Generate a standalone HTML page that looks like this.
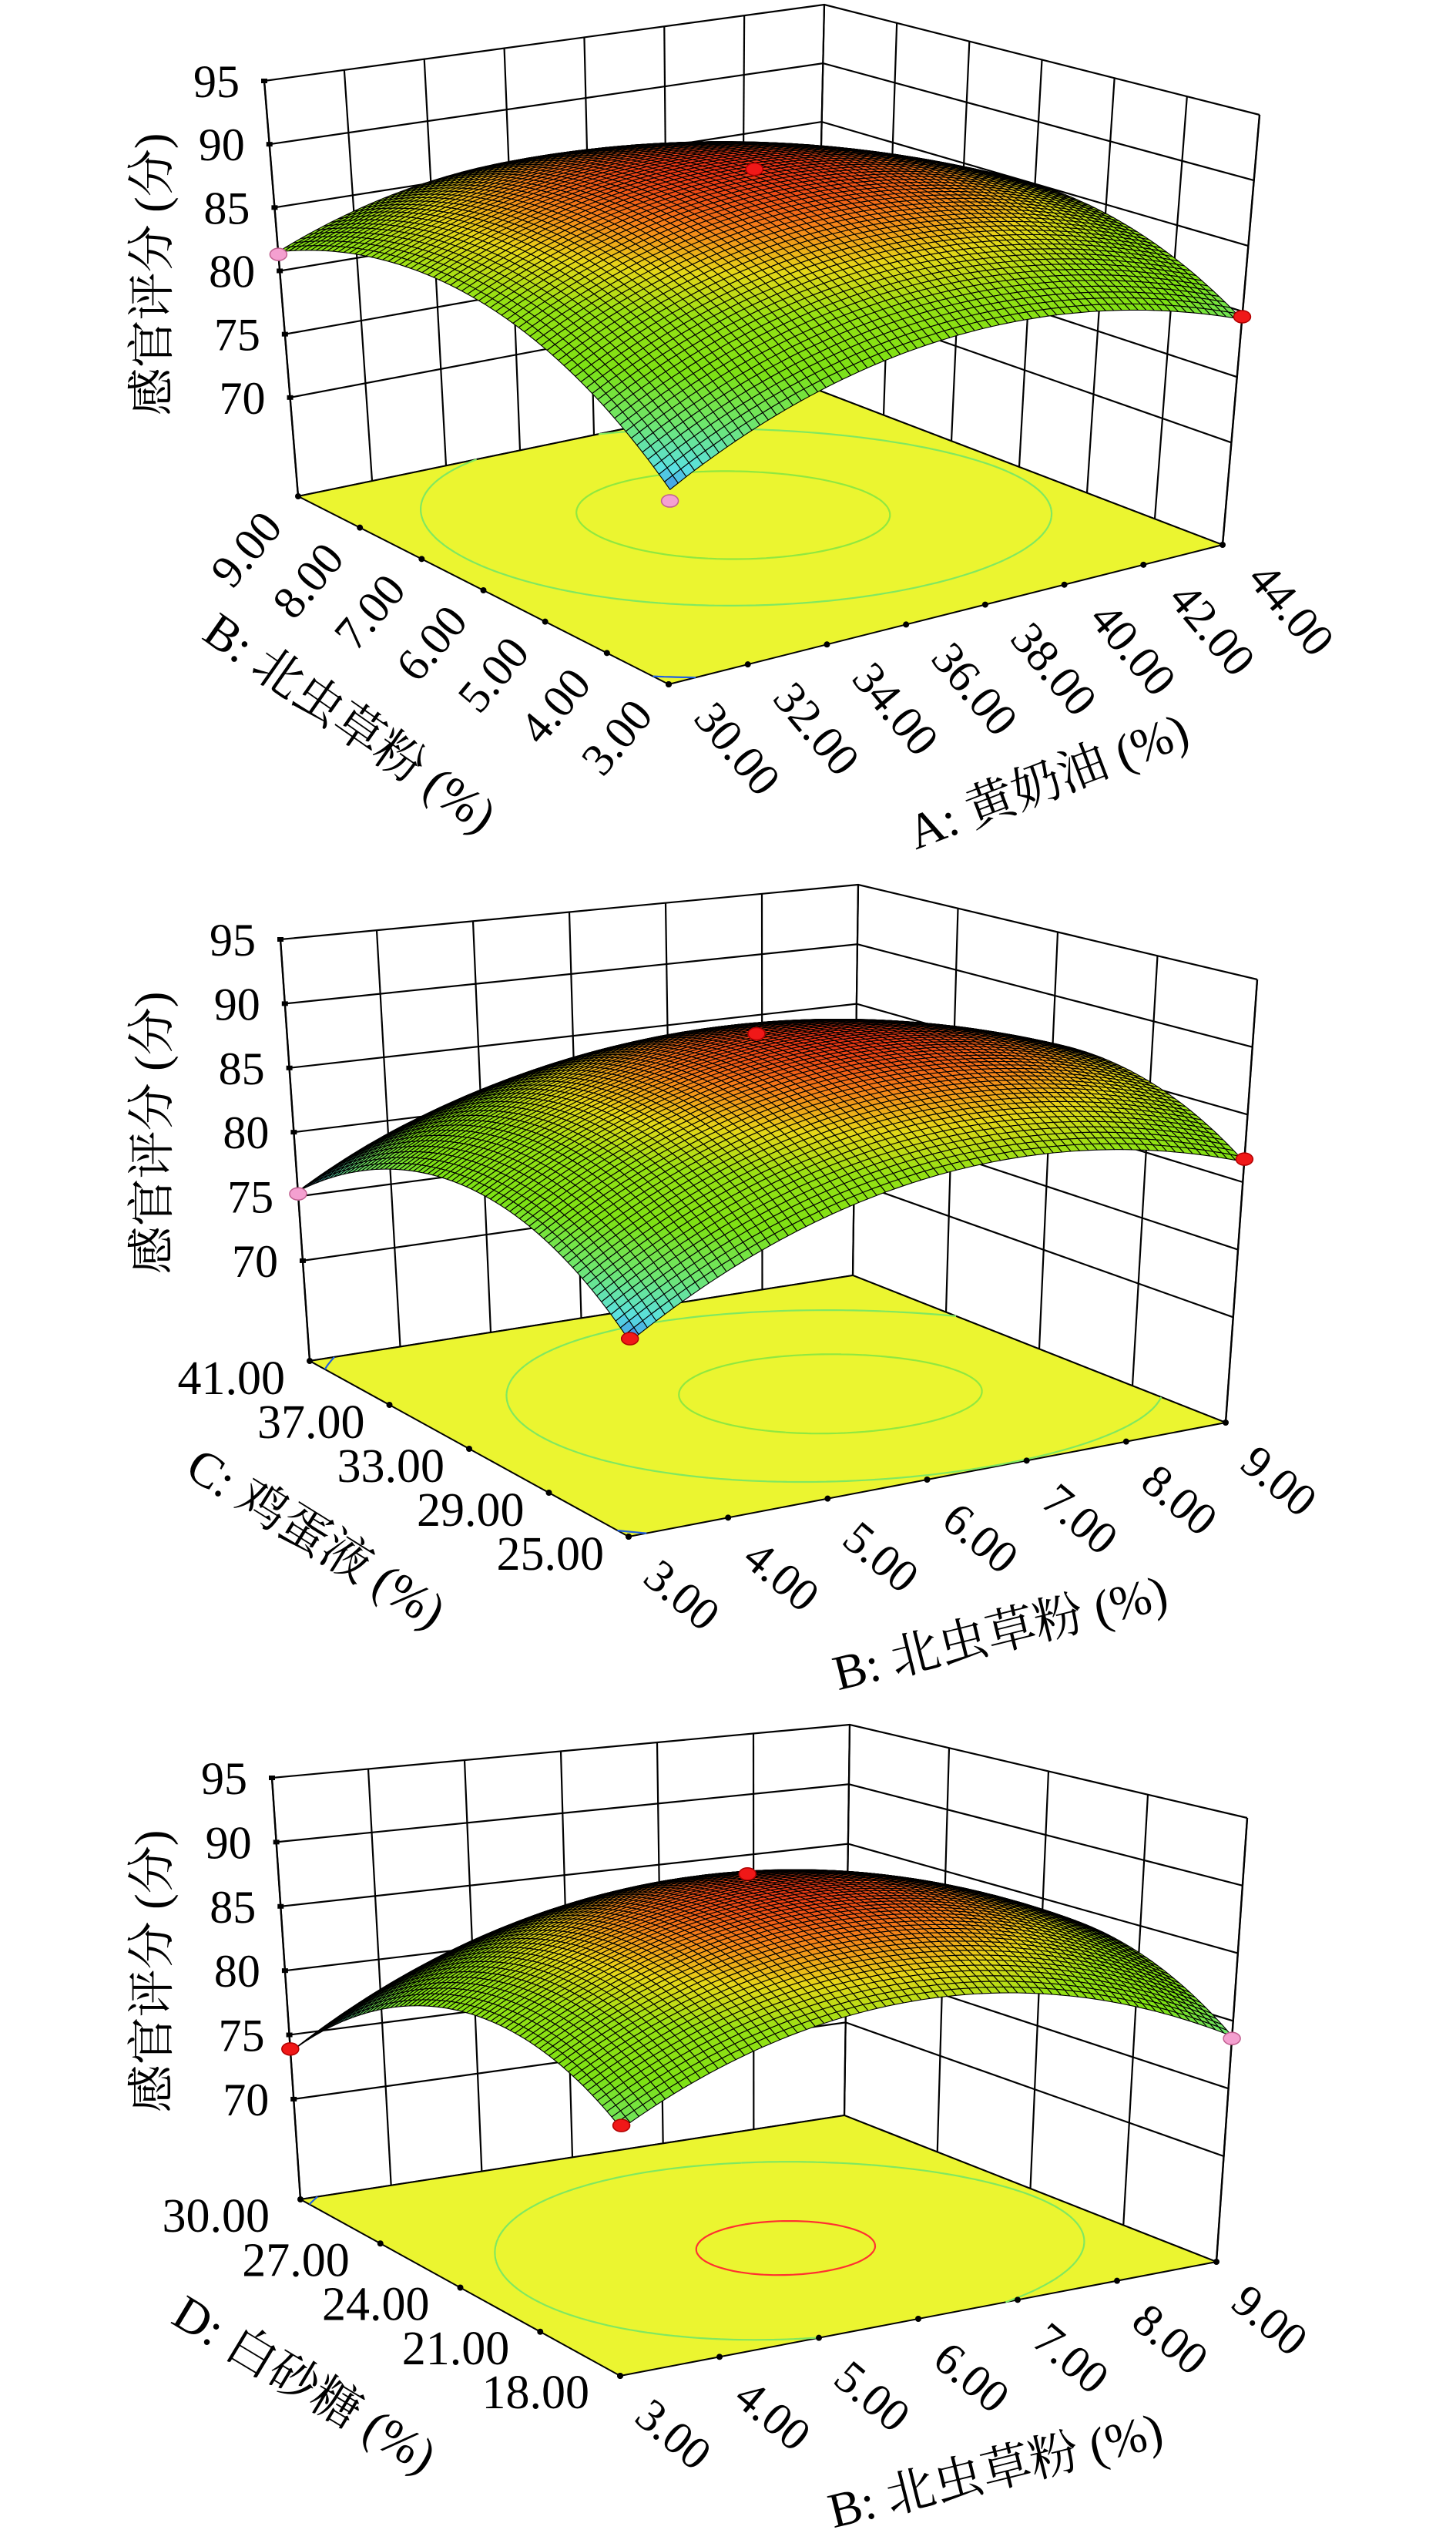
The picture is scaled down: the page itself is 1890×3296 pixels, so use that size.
<!DOCTYPE html>
<html><head><meta charset="utf-8"><title>Response surfaces</title>
<style>
html,body{margin:0;padding:0;background:#fff;}
svg{display:block;}
text{font-family:"Liberation Serif","Noto Serif CJK SC",serif;fill:#000;}
</style></head>
<body>
<svg id="fig" xmlns="http://www.w3.org/2000/svg" width="1890" height="3296" viewBox="0 0 1890 3296">
<rect x="0" y="0" width="1890" height="3296" fill="#fff"/>
</svg>
<script>
// ---------- data ----------
const zTicks = [70, 75, 80, 85, 90, 95];
const zMin = 62.2, zMax = 95;
// chart 1: A (u) vs B (v)
const c1uTicks = ["30.00","32.00","34.00","36.00","38.00","40.00","42.00","44.00"];
const c1vTicks = ["3.00","4.00","5.00","6.00","7.00","8.00","9.00"];
const c1Coef = [89.5, 0.5, 1.55, -5.0, -5.3, -1.25]; // c, a1, a2, a11, a22, a12 (coded)
const c1PtsU = [0, 1, 0, 0.5];
const c1PtsV = [1, 0, 0, 0.5];
const c1PtsZ = [81.3, 79.6, 75.1, 90.0];
const c1Levels = [77, 85.5, 88.6];
// chart 2: B (u) vs C (v)
const c2uTicks = ["3.00","4.00","5.00","6.00","7.00","8.00","9.00"];
const c2vTicks = ["25.00","29.00","33.00","37.00","41.00"];
const c2Coef = [89.3, 2.35, -0.7, -5.4, -6.0, -0.55];
const c2PtsU = [0, 1, 0, 0.5];
const c2PtsV = [1, 0, 0, 0.5];
const c2PtsZ = [75.2, 81.7, 75.9, 89.9];
const c2Levels = [76.5, 84.5, 88.5];
// chart 3: B (u) vs D (v)
const c3uTicks = ["3.00","4.00","5.00","6.00","7.00","8.00","9.00"];
const c3vTicks = ["18.00","21.00","24.00","27.00","30.00"];
const c3Coef = [89.3, 0.725, -1.875, -6.0, -6.1, 0.925];
const c3PtsU = [0, 1, 0, 0.5];
const c3PtsV = [1, 0, 0, 0.5];
const c3PtsZ = [73.9, 78.7, 79.5, 89.8];
const c3Levels = [74.5, 84.5, 89.0];

// ---------- layout (geometry, not data) ----------
const charts = [
 {id:'c1', uT:c1uTicks, vT:c1vTicks, coef:c1Coef, pu:c1PtsU, pv:c1PtsV, pz:c1PtsZ, lev:c1Levels, levCol:['#2060e0','#80e860','#90e840'],
  B:{p00:[868,888],p10:[1587,707],p01:[387,644],p11:[1059,505]},
  T:{p00:[872,283],p10:[1635,149],p01:[343,105],p11:[1070,6]},
  uLab:{dx:90,dy:83,rot:50,mode:'rot'}, vLab:{dx:-68,dy:68,rot:-50,mode:'rot'},
  uTitle:{t:'A: 黄奶油 (%)',x:1360,y:1013,rot:-21}, vTitle:{t:'B: 北虫草粉 (%)',x:455,y:937,rot:35}, zTitleY:356},
 {id:'c2', uT:c2uTicks, vT:c2vTicks, coef:c2Coef, pu:c2PtsU, pv:c2PtsV, pz:c2PtsZ, lev:c2Levels, levCol:['#2060e0','#80e860','#90e840'],
  B:{p00:[816,1994],p10:[1591,1846],p01:[402,1766],p11:[1107,1655]},
  T:{p00:[820,1379],p10:[1632,1271],p01:[364,1219],p11:[1114,1148]},
  uLab:{dx:70,dy:75,rot:40,mode:'rot'}, vLab:{dx:-32,dy:43,mode:'flat'},
  uTitle:{t:'B: 北虫草粉 (%)',x:1298,y:2118,rot:-14}, vTitle:{t:'C: 鸡蛋液 (%)',x:411,y:1995,rot:32}, zTitleY:1470},
 {id:'c3', uT:c3uTicks, vT:c3vTicks, coef:c3Coef, pu:c3PtsU, pv:c3PtsV, pz:c3PtsZ, lev:c3Levels, levCol:['#2060e0','#80e860','#ff3030'],
  B:{p00:[805,3083],p10:[1579,2935],p01:[390,2854],p11:[1096,2745]},
  T:{p00:[808,2467],p10:[1619,2359],p01:[353,2307],p11:[1103,2238]},
  uLab:{dx:70,dy:75,rot:40,mode:'rot'}, vLab:{dx:-40,dy:42,mode:'flat'},
  uTitle:{t:'B: 北虫草粉 (%)',x:1292,y:3205,rot:-14}, vTitle:{t:'D: 白砂糖 (%)',x:396,y:3093,rot:31}, zTitleY:2558}
];

const NS = 'http://www.w3.org/2000/svg';
const fig = document.getElementById('fig');
function mk(tag, attrs, parent){
  const e = document.createElementNS(NS, tag);
  for (const k in attrs) e.setAttribute(k, attrs[k]);
  (parent||fig).appendChild(e);
  return e;
}
function bil(C,u,v){
  return [C.p00[0]*(1-u)*(1-v)+C.p10[0]*u*(1-v)+C.p01[0]*(1-u)*v+C.p11[0]*u*v,
          C.p00[1]*(1-u)*(1-v)+C.p10[1]*u*(1-v)+C.p01[1]*(1-u)*v+C.p11[1]*u*v];
}
function wOf(z){ return (z - zMin)/(zMax - zMin); }
function proj(ch,u,v,z){
  const b = bil(ch.B,u,v), t = bil(ch.T,u,v), w = wOf(z);
  return [b[0]+(t[0]-b[0])*w, b[1]+(t[1]-b[1])*w];
}
function fval(coef,u,v){
  const x = 2*u-1, y = 2*v-1;
  return coef[0]+coef[1]*x+coef[2]*y+coef[3]*x*x+coef[4]*y*y+coef[5]*x*y;
}
const stops = [[0,[50,110,235]],[0.1,[90,225,225]],[0.25,[110,230,110]],[0.42,[125,225,20]],[0.6,[150,225,20]],[0.74,[230,215,25]],[0.86,[245,130,25]],[1,[230,30,20]]];
function cmap(z){
  let t = (z-75.5)/(90-75.5); t = Math.max(0,Math.min(1,t));
  for (let i=1;i<stops.length;i++){
    if (t<=stops[i][0]){
      const a=stops[i-1], b=stops[i], f=(t-a[0])/(b[0]-a[0]);
      return 'rgb('+[0,1,2].map(k=>Math.round(a[1][k]+(b[1][k]-a[1][k])*f)).join(',')+')';
    }
  }
  return 'rgb(230,30,20)';
}
const P = p => p[0].toFixed(1)+','+p[1].toFixed(1);

charts.forEach(ch => {
  const g = mk('g', {});
  
  
  const nU = ch.uT.length-1, nV = ch.vT.length-1;

  const walls = mk('g', {stroke:'#000','stroke-width':2.2,fill:'none'}, g);
  
  
  for (let i=0;i<=nU;i++){ const u=i/nU; const a=proj(ch,u,1,zMin), b=proj(ch,u,1,zMax);
    mk('line',{x1:a[0],y1:a[1],x2:b[0],y2:b[1]},walls); }
  for (let j=0;j<=nV;j++){ const v=j/nV; const a=proj(ch,1,v,zMin), b=proj(ch,1,v,zMax);
    mk('line',{x1:a[0],y1:a[1],x2:b[0],y2:b[1]},walls); }
  [zMin].concat(zTicks).forEach(z => {
    const a=proj(ch,0,1,z), b=proj(ch,1,1,z), c=proj(ch,1,0,z);
    mk('polyline',{points:P(a)+' '+P(b)+' '+P(c)},walls);
  });

  const fl = mk('polygon',{points:[proj(ch,0,0,zMin),proj(ch,1,0,zMin),proj(ch,1,1,zMin),proj(ch,0,1,zMin)].map(P).join(' '),
    fill:'#ebf530',stroke:'#000','stroke-width':2}, g);
  
  

  const N = 80;
  ch.lev.forEach((L,li) => {
    let d='';
    for (let i=0;i<N;i++) for (let j=0;j<N;j++){
      const u0=i/N,u1=(i+1)/N,v0=j/N,v1=(j+1)/N;
      const c=[[u0,v0,fval(ch.coef,u0,v0)-L],[u1,v0,fval(ch.coef,u1,v0)-L],[u1,v1,fval(ch.coef,u1,v1)-L],[u0,v1,fval(ch.coef,u0,v1)-L]];
      const pts=[];
      for (let k=0;k<4;k++){ const a=c[k], b=c[(k+1)%4];
        if ((a[2]<0)!==(b[2]<0)){ const f=a[2]/(a[2]-b[2]); pts.push([a[0]+(b[0]-a[0])*f, a[1]+(b[1]-a[1])*f]); } }
      for (let k=0;k+1<pts.length;k+=2){
        d+='M'+P(proj(ch,pts[k][0],pts[k][1],zMin))+'L'+P(proj(ch,pts[k+1][0],pts[k+1][1],zMin));
      }
    }
    const cp = mk('path',{d:d,stroke:ch.levCol[li],'stroke-width':2.2,fill:'none'}, g);
    
    
  });

  const ax = mk('g',{stroke:'#000','stroke-width':2.4}, g);
  
  
  let a=proj(ch,0,1,zMin), b=proj(ch,0,1,zMax);
  mk('line',{x1:a[0],y1:a[1],x2:b[0],y2:b[1]},ax);
  a=proj(ch,1,0,zMin); b=proj(ch,1,0,zMax);
  mk('line',{x1:a[0],y1:a[1],x2:b[0],y2:b[1]},ax);
  zTicks.forEach(z => {
    const p=proj(ch,0,1,z);
    mk('rect',{x:p[0]-4,y:p[1]-3,width:8,height:6,fill:'#000',stroke:'none'},ax);
    const t = mk('text',{x:p[0]-32,y:p[1]+21,'text-anchor':'end','font-size':60,stroke:'none'}, g);
    t.textContent = z;
    
    
  });
  const zt = mk('text',{x:0,y:0,'text-anchor':'middle','font-size':62,transform:'translate(218,'+ch.zTitleY+') rotate(-90)'}, g);
  zt.textContent = '感官评分 (分)';
  
  

  const M = 70;
  const surf = mk('g',{stroke:'#000','stroke-width':1.1,'stroke-linejoin':'round'}, g);
  
  
  const cells=[];
  for (let i=0;i<M;i++) for (let j=0;j<M;j++) cells.push([i,j]);
  cells.sort((p,q)=>(q[0]+q[1])-(p[0]+p[1]));
  cells.forEach(([i,j]) => {
    const u0=i/M,u1=(i+1)/M,v0=j/M,v1=(j+1)/M;
    const z00=fval(ch.coef,u0,v0), z10=fval(ch.coef,u1,v0), z11=fval(ch.coef,u1,v1), z01=fval(ch.coef,u0,v1);
    const pts=[proj(ch,u0,v0,z00),proj(ch,u1,v0,z10),proj(ch,u1,v1,z11),proj(ch,u0,v1,z01)].map(P).join(' ');
    mk('polygon',{points:pts,fill:cmap((z00+z10+z11+z01)/4)},surf);
  });

  for (let k=0;k<ch.pz.length;k++){
    const p = proj(ch,ch.pu[k],ch.pv[k],ch.pz[k]);
    const above = ch.pz[k] >= fval(ch.coef,ch.pu[k],ch.pv[k]);
    const dp = mk('ellipse',{cx:p[0],cy:p[1],rx:11,ry:8,fill:above?'#f01818':'#f4a0d0',stroke:above?'#b00000':'#c06090','stroke-width':1.5}, g);
    
    
  }

  for (let i=0;i<=nU;i++){
    const p = proj(ch,i/nU,0,zMin);
    mk('circle',{cx:p[0],cy:p[1],r:4,fill:'#000'}, g);
    const L = ch.uLab;
    const t = mk('text',{x:0,y:0,'text-anchor':'middle','font-size':60,dy:'0.35em',transform:'translate('+(p[0]+L.dx).toFixed(1)+','+(p[1]+L.dy).toFixed(1)+') rotate('+L.rot+')'}, g);
    t.textContent = ch.uT[i];
    
    
  }
  for (let j=0;j<=nV;j++){
    const p = proj(ch,0,j/nV,zMin);
    mk('circle',{cx:p[0],cy:p[1],r:4,fill:'#000'}, g);
    const L = ch.vLab;
    let t;
    if (L.mode==='rot'){
      t = mk('text',{x:0,y:0,'text-anchor':'middle','font-size':60,dy:'0.35em',transform:'translate('+(p[0]+L.dx).toFixed(1)+','+(p[1]+L.dy).toFixed(1)+') rotate('+L.rot+')'}, g);
    } else {
      t = mk('text',{x:(p[0]+L.dx).toFixed(1),y:(p[1]+L.dy).toFixed(1),'text-anchor':'end','font-size':62}, g);
    }
    t.textContent = ch.vT[j];
    
    
  }
  [ch.uTitle, ch.vTitle].forEach((T,k) => {
    const t = mk('text',{x:0,y:0,'text-anchor':'middle','font-size':64,dy:'0.35em',transform:'translate('+T.x+','+T.y+') rotate('+T.rot+')'}, g);
    t.textContent = T.t;
    
    
  });
});
</script>
</body></html>
